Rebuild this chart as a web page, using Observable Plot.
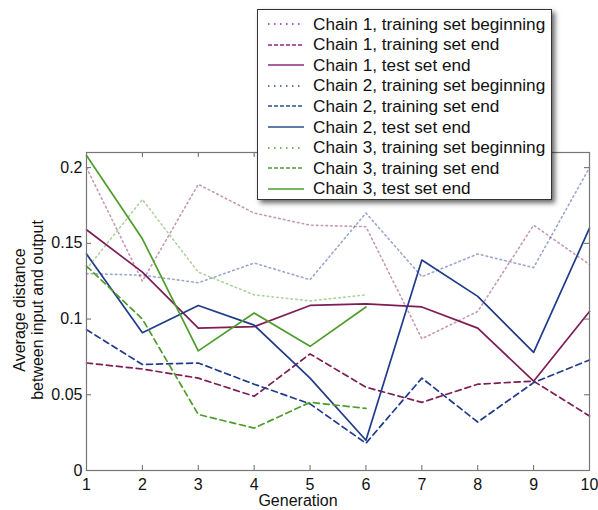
<!DOCTYPE html>
<html>
<head>
<meta charset="utf-8">
<script src="https://cdn.jsdelivr.net/npm/d3@7"></script>
<script src="https://cdn.jsdelivr.net/npm/@observablehq/plot@0.6"></script>
<style>
  html, body { margin: 0; padding: 0; background: #fff; }
  #wrap { position: relative; width: 598px; height: 510px; font-family: "Liberation Sans", Arial, Helvetica, sans-serif; }
  #legend { position: absolute; left: 257px; top: 9px; width: 295px; height: 191px; background: #fff;
            border: 1px solid #333; box-shadow: 3px 3px 5px rgba(0,0,0,0.6); box-sizing: border-box; }
  .row { position: absolute; left: 0; height: 20px; display: flex; align-items: center; font-size: 17.2px; color: #111; white-space: nowrap; }
  .row svg { margin-left: 10px; margin-right: 9px; }
</style>
</head>
<body>
<div id="wrap"><div id="legend"></div></div>
<script>
const generations = [1, 2, 3, 4, 5, 6, 7, 8, 9, 10];
const chain1Begin    = [0.200, 0.125, 0.189, 0.170, 0.162, 0.161, 0.087, 0.105, 0.162, 0.136];
const chain1TrainEnd = [0.071, 0.067, 0.061, 0.049, 0.077, 0.055, 0.045, 0.057, 0.059, 0.036];
const chain1TestEnd  = [0.159, 0.131, 0.094, 0.095, 0.109, 0.110, 0.108, 0.094, 0.059, 0.105];
const chain2Begin    = [0.130, 0.129, 0.124, 0.137, 0.126, 0.170, 0.128, 0.143, 0.134, 0.200];
const chain2TrainEnd = [0.093, 0.070, 0.071, 0.057, 0.044, 0.018, 0.061, 0.032, 0.058, 0.073];
const chain2TestEnd  = [0.143, 0.091, 0.109, 0.096, 0.061, 0.020, 0.139, 0.115, 0.078, 0.160];
const chain3Begin    = [0.133, 0.179, 0.131, 0.116, 0.112, 0.116];
const chain3TrainEnd = [0.135, 0.100, 0.037, 0.028, 0.045, 0.041];
const chain3TestEnd  = [0.208, 0.153, 0.079, 0.104, 0.082, 0.108];
const yTicks = [0, 0.05, 0.1, 0.15, 0.2];
const xTicks = generations;

const chainColors = {"Chain 1": "#7d1c55", "Chain 2": "#1f3b8a", "Chain 3": "#4e9c2c"};
const legendColors = {"Chain 1": "#8a2a8a", "Chain 2": "#2b4e8c", "Chain 3": "#4e9c2c"};
const styles = {
  "training set beginning": {dash: "1.6,3.2", width: 1.6, opacity: 0.45, legendDash: "1.5,4.5"},
  "training set end": {dash: "6,4", width: 1.7, opacity: 1, legendDash: "4,2"},
  "test set end": {dash: null, width: 1.7, opacity: 1, legendDash: null}
};

const seriesList = [
  ["Chain 1", "training set beginning", chain1Begin],
  ["Chain 1", "training set end", chain1TrainEnd],
  ["Chain 1", "test set end", chain1TestEnd],
  ["Chain 2", "training set beginning", chain2Begin],
  ["Chain 2", "training set end", chain2TrainEnd],
  ["Chain 2", "test set end", chain2TestEnd],
  ["Chain 3", "training set beginning", chain3Begin],
  ["Chain 3", "training set end", chain3TrainEnd],
  ["Chain 3", "test set end", chain3TestEnd]
];

const lineMarks = seriesList.map(([chain, kind, vals]) => {
  const st = styles[kind];
  const data = vals.map((v, i) => ({g: generations[i], v}));
  return Plot.line(data, {x: "g", y: "v", stroke: chainColors[chain], strokeWidth: st.width,
    strokeDasharray: st.dash, strokeOpacity: st.opacity});
});

const W = 598, H = 510, mL = 86, mR = 9, mT = 152, mB = 40;
const innerH = H - mT - mB, innerW = W - mL - mR, tl = 5;

const chart = Plot.plot({
  width: W, height: H,
  marginLeft: mL, marginRight: mR, marginTop: mT, marginBottom: mB,
  style: {fontFamily: '"Liberation Sans", Arial, Helvetica, sans-serif', fontSize: "16px", color: "#111", background: "transparent"},
  x: {domain: [1, 10]},
  y: {domain: [0, 0.21]},
  marks: [
    ...lineMarks,
    Plot.tickX(xTicks, {x: d => d, insetTop: innerH - tl, stroke: "#666"}),
    Plot.tickX(xTicks, {x: d => d, insetBottom: innerH - tl, stroke: "#666"}),
    Plot.tickY(yTicks, {y: d => d, insetRight: innerW - tl, stroke: "#666"}),
    Plot.tickY(yTicks, {y: d => d, insetLeft: innerW - tl, stroke: "#666"}),
    Plot.frame({stroke: "#777", strokeWidth: 1.2}),
    Plot.axisX(xTicks, {tickSize: 0, tickPadding: 8, fontSize: 16, label: null}),
    Plot.axisY(yTicks, {tickSize: 0, tickPadding: 4, fontSize: 16, label: null, tickFormat: d3.format("~g")})
  ]
});

const svg = d3.select(chart);
svg.append("text").attr("x", 298).attr("y", 506).attr("text-anchor", "middle")
  .style("font-size", "16px").attr("fill", "#111").text("Generation");
const yl = svg.append("g").attr("transform", "translate(0,310) rotate(-90)");
yl.append("text").attr("x", 0).attr("y", 25).attr("text-anchor", "middle")
  .style("font-size", "16px").attr("fill", "#111").text("Average distance");
yl.append("text").attr("x", 0).attr("y", 43).attr("text-anchor", "middle")
  .style("font-size", "16px").attr("fill", "#111").text("between input and output");

const wrap = document.getElementById("wrap");
wrap.insertBefore(chart, wrap.firstChild);

const legend = d3.select("#legend");
seriesList.forEach(([chain, kind], i) => {
  const st = styles[kind];
  const row = legend.append("div").attr("class", "row").style("top", (4 + i * 20.6) + "px");
  const s = row.append("svg").attr("width", 36).attr("height", 10);
  s.append("line").attr("x1", 0).attr("x2", 36).attr("y1", 5).attr("y2", 5)
    .attr("stroke", legendColors[chain]).attr("stroke-width", 1.6)
    .attr("stroke-dasharray", st.legendDash);
  row.append("span").text(`${chain}, ${kind}`);
});
</script>
</body>
</html>
